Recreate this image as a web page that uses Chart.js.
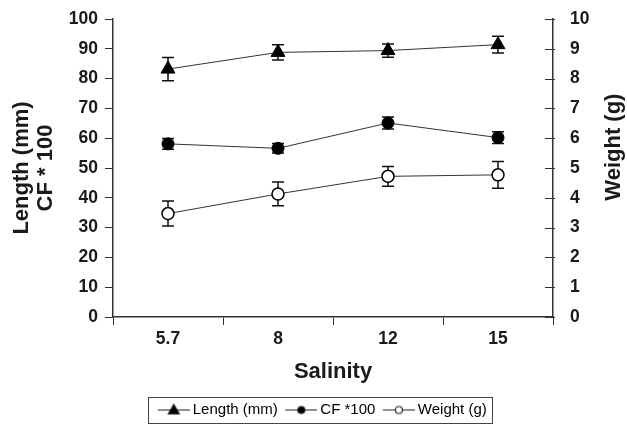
<!DOCTYPE html>
<html lang="en">
<head>
<meta charset="UTF-8">
<title>Length, CF and weight vs salinity</title>
<script src="https://cdn.jsdelivr.net/npm/chart.js"></script>
<style>
  html, body { margin: 0; padding: 0; background: #fff; }
</style>
</head>
<body>
<canvas id="chart" width="627" height="425"></canvas>
<script>
// values
const salinity = ['5.7', '8', '12', '15'];
const lengthMean = [83.2, 88.8, 89.4, 91.4];
const lengthErr = [3.9, 2.6, 2.2, 2.8];
const cfMean = [58.1, 56.6, 65.1, 60.2];
const cfErr = [1.8, 1.6, 2.0, 2.0];
const weightMean = [3.47, 4.13, 4.72, 4.77];
const weightErr = [0.42, 0.40, 0.33, 0.45];
const rightTitle = 'Weight (g)';

const FONT = "'Liberation Sans', Arial, sans-serif";
const INK = '#1a1a1a';

// little "line + marker" icons for the legend (visible part from x=6 to 38)
function legendIcon(style, fill) {
  const c = document.createElement('canvas');
  c.width = 38; c.height = 14;
  const g = c.getContext('2d');
  g.strokeStyle = '#222'; g.lineWidth = 1;
  g.beginPath(); g.moveTo(6, 7.5); g.lineTo(38, 7.5); g.stroke();
  g.fillStyle = fill; g.lineWidth = 1.2;
  g.beginPath();
  if (style === 'triangle') {
    g.moveTo(22, 2); g.lineTo(27.5, 11.5); g.lineTo(16.5, 11.5); g.closePath();
  } else {
    g.arc(22, 7.5, 3.5, 0, Math.PI * 2);
  }
  g.fill(); g.stroke();
  return c;
}
const icons = [legendIcon('triangle', '#000'), legendIcon('circle', '#000'), legendIcon('circle', '#fff')];

const extras = {
  id: 'extras',
  afterLayout(chart) {
    // legend sits a little right of centre and low in the original
    chart.legend.left += 8;
    chart.legend.right += 8;
    chart.legend.top += 2;
    chart.legend.bottom += 2;
  },
  // error bars, drawn under the markers
  beforeDatasetsDraw(chart) {
    const ctx = chart.ctx;
    ctx.save();
    ctx.strokeStyle = '#111';
    ctx.lineWidth = 1.5;
    chart.data.datasets.forEach((ds, i) => {
      const meta = chart.getDatasetMeta(i);
      const ys = chart.scales[ds.yAxisID];
      meta.data.forEach((pt, j) => {
        const x = pt.x;
        const hi = ys.getPixelForValue(ds.data[j] + ds.err[j]);
        const lo = ys.getPixelForValue(ds.data[j] - ds.err[j]);
        ctx.beginPath();
        ctx.moveTo(x, hi); ctx.lineTo(x, lo);
        ctx.moveTo(x - 6, hi); ctx.lineTo(x + 6, hi);
        ctx.moveTo(x - 6, lo); ctx.lineTo(x + 6, lo);
        ctx.stroke();
      });
    });
    ctx.restore();
  },
  afterDraw(chart) {
    const ctx = chart.ctx;
    const r = chart.scales.y1;
    ctx.save();
    // right axis ticks point inward
    ctx.strokeStyle = '#333';
    ctx.lineWidth = 1;
    r.ticks.forEach(t => {
      const y = Math.round(r.getPixelForValue(t.value)) + 0.5;
      ctx.beginPath(); ctx.moveTo(r.left - 8, y); ctx.lineTo(r.left + 2, y); ctx.stroke();
    });
    // right axis title, reading upwards like the left one
    ctx.fillStyle = INK;
    ctx.font = 'bold 22px ' + FONT;
    ctx.textAlign = 'center';
    ctx.textBaseline = 'middle';
    ctx.translate(r.right - 13, r.top + (r.bottom - r.top) * 0.43);
    ctx.rotate(-Math.PI / 2);
    ctx.fillText(rightTitle, 0, 0);
    ctx.setTransform(1, 0, 0, 1, 0, 0);
    // box round the legend
    const boxes = chart.legend.legendHitBoxes;
    if (boxes && boxes.length) {
      const l = Math.min(...boxes.map(b => b.left)) - 8.5;
      const rgt = Math.max(...boxes.map(b => b.left + b.width)) + 5;
      const mid = boxes[0].top + boxes[0].height / 2;
      ctx.strokeStyle = '#444';
      ctx.lineWidth = 1;
      ctx.strokeRect(Math.round(l) + 0.5, Math.round(mid - 13) + 0.5, Math.round(rgt - l), 26);
    }
    ctx.restore();
  }
};

const tickFont = { family: FONT, size: 17.5, weight: 'bold' };
const titleFont = { family: FONT, size: 22, weight: 'bold', lineHeight: 1.1 };

new Chart(document.getElementById('chart'), {
  type: 'line',
  data: {
    labels: salinity,
    datasets: [
      {
        label: 'Length (mm)', data: lengthMean, err: lengthErr, yAxisID: 'y',
        borderColor: '#333', borderWidth: 1,
        pointStyle: 'triangle', pointRadius: 8,
        pointBackgroundColor: '#000', pointBorderColor: '#000', pointBorderWidth: 1
      },
      {
        label: 'CF *100', data: cfMean, err: cfErr, yAxisID: 'y',
        borderColor: '#333', borderWidth: 1,
        pointStyle: 'circle', pointRadius: 6,
        pointBackgroundColor: '#000', pointBorderColor: '#000', pointBorderWidth: 1
      },
      {
        label: 'Weight (g)', data: weightMean, err: weightErr, yAxisID: 'y1',
        borderColor: '#333', borderWidth: 1,
        pointStyle: 'circle', pointRadius: 6,
        pointBackgroundColor: '#fff', pointBorderColor: '#000', pointBorderWidth: 1.5
      }
    ]
  },
  options: {
    responsive: false,
    animation: false,
    devicePixelRatio: 1,
    layout: { padding: { top: 19, left: 0, right: 0, bottom: 0 } },
    plugins: {
      tooltip: { enabled: false },
      legend: {
        position: 'bottom',
        labels: {
          usePointStyle: true,
          pointStyleWidth: 29,
          padding: 6,
          color: INK,
          font: { family: FONT, size: 15 },
          generateLabels(chart) {
            return chart.data.datasets.map((ds, i) => ({
              text: ds.label, pointStyle: icons[i], datasetIndex: i,
              fillStyle: '#000', strokeStyle: '#000', lineWidth: 0, hidden: false
            }));
          }
        }
      }
    },
    scales: {
      x: {
        offset: true,
        grid: { offset: true, drawOnChartArea: false, tickLength: 8, color: '#333' },
        border: { color: '#333', width: 1.5 },
        ticks: { font: tickFont, color: INK, padding: 4 },
        title: { display: true, text: 'Salinity', font: titleFont, color: INK, padding: { top: 0, bottom: 10 } },
        afterFit(s) { s.height = 77; s.paddingLeft = 0; s.paddingRight = 0; }
      },
      y: {
        position: 'left', min: 0, max: 100,
        grid: { drawOnChartArea: false, tickLength: 8, color: '#333' },
        border: { color: '#333', width: 1.5 },
        ticks: { stepSize: 10, font: tickFont, color: INK, padding: 7 },
        title: { display: true, text: ['Length (mm)', 'CF * 100'], font: titleFont, color: INK, padding: { top: 10, bottom: 0 } },
        afterFit(s) { s.width = 113; s.paddingTop = 0; s.paddingBottom = 0; }
      },
      y1: {
        position: 'right', min: 0, max: 10,
        grid: { drawOnChartArea: false, drawTicks: false },
        border: { color: '#333', width: 1.5 },
        ticks: { stepSize: 1, font: tickFont, color: INK, padding: 17 },
        afterFit(s) { s.width = 74; s.paddingTop = 0; s.paddingBottom = 0; }
      }
    }
  },
  plugins: [extras]
});
</script>
</body>
</html>
